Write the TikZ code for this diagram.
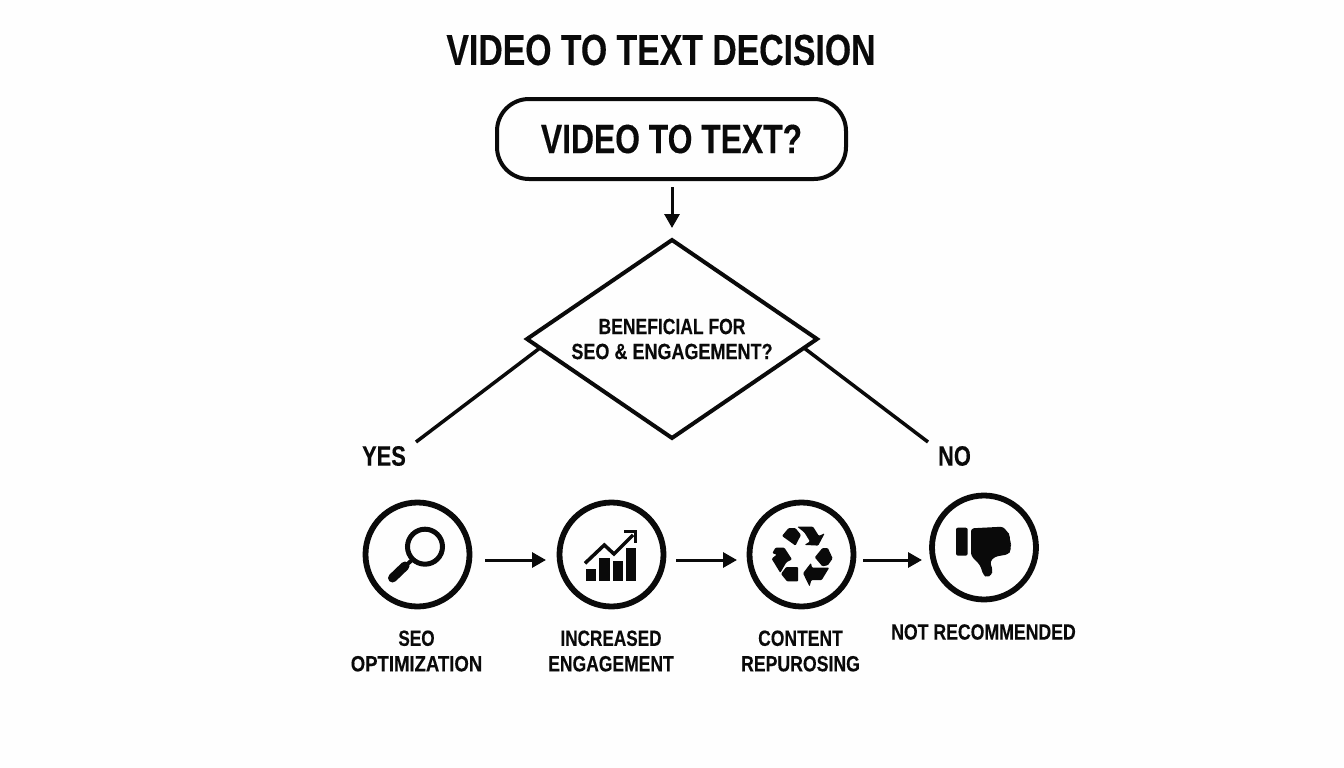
\documentclass[tikz,border=0pt]{standalone}
\usepackage{fontspec}
\usetikzlibrary{shapes.geometric,arrows.meta,calc}
\setmainfont{Liberation Sans}[BoldFont={Liberation Sans Bold},BoldFeatures={FakeStretch=0.78,FakeBold=0.25}]
\definecolor{ink}{HTML}{0A0A0A}
\definecolor{paper}{HTML}{FEFEFE}
\tikzset{
  x=1pt,y=-1pt,
  every node/.style={inner sep=0pt,outer sep=0pt,text=ink},
  label/.style={font=\bfseries\fontsize{22}{25.5}\selectfont,align=center},
  badge/.style={circle,draw=ink,line width=5.8pt,minimum size=104pt},
  arr/.style={draw=ink,line width=3pt,-{Triangle[length=14pt,width=15pt]}},
  branch/.style={draw=ink,line width=3.5pt},
}
\begin{document}
\begin{tikzpicture}
\useasboundingbox[fill=paper] (0,0) rectangle (1344,768);
\node[font=\bfseries\fontsize{43.3}{44}\selectfont] (title) at (661,50) {VIDEO TO TEXT DECISION};
\node[draw=ink,line width=4pt,rounded corners=32pt,minimum width=349pt,minimum height=80pt,font=\bfseries\fontsize{40.8}{42}\selectfont] (box) at (671.5,139) {VIDEO TO TEXT?};
\node[diamond,draw=ink,line width=4pt,minimum width=290pt,minimum height=198pt,aspect=1.46,align=center,font=\bfseries\fontsize{22}{25}\selectfont] (dia) at (672,339) {\scalebox{1.02}[1]{BENEFICIAL FOR}\\\scalebox{1.05}[1]{SEO \& ENGAGEMENT?}};
\node[font=\bfseries\fontsize{28}{30}\selectfont] (yes) at (384,456) {YES};
\node[font=\bfseries\fontsize{28}{30}\selectfont] (no) at (954.5,456) {NO};
\coordinate (yesend) at (416,442);
\coordinate (noend) at (928,442);
\draw[arr] ([shift={(0.5,8)}]box.south) -- ([shift={(0,-12)}]dia.north);
\draw[branch] ($(dia.west)!0.09!(dia.south)$) -- (yesend);
\draw[branch] ($(dia.east)!0.09!(dia.south)$) -- (noend);

\node[badge] (c1) at (417.5,554.5) {};
\node[badge] (c2) at (611.5,554.5) {};
\node[badge] (c3) at (801.5,554.5) {};
\node[badge] (c4) at (984,547.5) {};
\draw[arr] ([shift={(15.5,5.5)}]c1.east) -- ([shift={(-13.5,5.5)}]c2.west);
\draw[arr] ([shift={(12.5,5.5)}]c2.east) -- ([shift={(-12.5,5.5)}]c3.west);
\draw[arr] ([shift={(9.5,5.5)}]c3.east) -- ([shift={(-10,12.5)}]c4.west);

\node[label] (l1) at (416.5,651) {SEO\\\scalebox{1.08}[1]{OPTIMIZATION}};
\node[label] (l2) at (611,651) {INCREASED\\\scalebox{1.02}[1]{ENGAGEMENT}};
\node[label] (l3) at (800.5,651) {\scalebox{1.02}[1]{CONTENT}\\\scalebox{1.03}[1]{REPUROSING}};
\node[label] (l4) at (983.5,632) {\scalebox{1.03}[1]{NOT RECOMMENDED}};

% magnifier
\draw[ink,line width=5pt] (425,546.7) circle (17.5);
\draw[ink,line width=4pt] (412,560) -- (403,568);
\draw[ink,line width=9pt,line cap=round] (405,566) -- (392.5,578);

% chart
\fill[ink] (585.7,569) rectangle (596,581);
\fill[ink] (599,558.3) rectangle (610,581);
\fill[ink] (612.7,561) rectangle (623.3,581);
\fill[ink] (626,548.3) rectangle (636,581);
\draw[ink,line width=3.5pt] (585,563.3) -- (604.3,545) -- (614,554) -- (633,535);
\draw[ink,line width=3.5pt] (624,531.5) -- (635.5,531.5) -- (635.5,543);

% recycle
\begin{scope}[shift={(763.7,518.7)},scale=0.345,rounded corners=1pt]
\fill[ink] (53,50) -- (72,27) -- (92,27) -- (108,47) -- (92,78) -- cycle;
\fill[ink] (97,23) -- (143,23) -- (160,50) -- (177,42) -- (158,78) -- (118,76) -- (134,66) -- (118,40) -- cycle;
\fill[ink] (34,84) -- (60,84) -- (82,118) -- (66,126) -- (48,157) -- (23,116) -- (38,104) -- (25,100) -- cycle;
\fill[ink] (50,160) -- (65,140) -- (100,140) -- (100,182) -- (68,182) -- cycle;
\fill[ink] (114,158) -- (137,128) -- (140,142) -- (190,142) -- (168,178) -- (138,178) -- (133,197) -- cycle;
\fill[ink] (148,112) -- (170,85) -- (186,85) -- (200,115) -- (186,135) -- (170,138) -- cycle;
\end{scope}

% thumb down
\begin{scope}[shift={(945,515)},scale=0.3333]
\fill[ink,rounded corners=2pt] (33,38) rectangle (68,122);
\fill[ink,rounded corners=3pt] (78,40) -- (175,35) -- (186,50) -- (196,60) -- (192,72) -- (200,85) -- (195,96) -- (198,106) -- (190,118) -- (150,125) -- (135,140) -- (143,165) -- (140,180) -- (126,187) -- (115,180) -- (105,150) -- (78,122) -- cycle;
\end{scope}
\end{tikzpicture}
\end{document}
